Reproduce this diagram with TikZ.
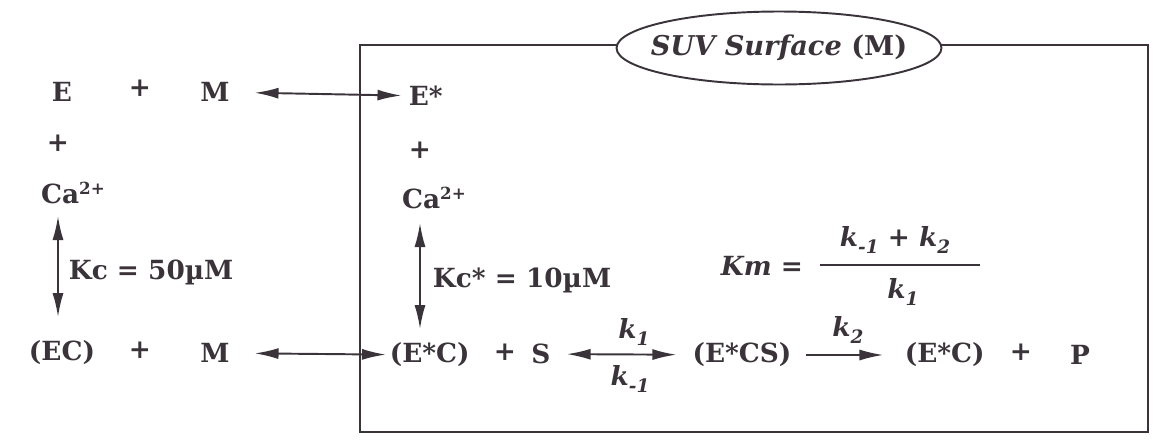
\documentclass[tikz,border=0pt]{standalone}
\usepackage{fontspec}
\setmainfont{DejaVu Serif}
\usepackage{tikz}
\usetikzlibrary{arrows.meta, positioning, calc, shapes.geometric}
\definecolor{ink}{RGB}{58,52,58}
\newcommand{\kr}[1]{{\itshape k}\raisebox{-0.45ex}{\fontsize{10.5}{12}\selectfont\itshape #1}}
\newcommand{\ion}{Ca\raisebox{0.7ex}{\fontsize{9.5}{11}\selectfont 2+}}

\begin{document}
\begin{tikzpicture}[x=0.02cm, y=-0.02cm, every node/.style={inner sep=2pt, text=ink},
  spec/.style={font=\fontsize{15}{18}\selectfont\bfseries},
  rate/.style={font=\fontsize{15}{18}\selectfont\bfseries},
  surf/.style={font=\fontsize{15.5}{18}\selectfont\bfseries},
  dbl/.style={{Latex[length=4.8mm,width=2.2mm]}-{Latex[length=4.8mm,width=2.2mm]}, line width=1.1pt, draw=ink},
  fwd/.style={-{Latex[length=4.8mm,width=2.2mm]}, line width=1.1pt, draw=ink}
]
\useasboundingbox (0,0) rectangle (1164,440);
% membrane box
\draw[ink, line width=1.1pt] (360,432) rectangle (1148,45);
\coordinate (suvc) at (779,48);
\draw[ink, line width=1.1pt, fill=white] (suvc) ellipse [x radius=3.25cm, y radius=0.73cm];
\node[surf] (suv) at (suvc) {\itshape SUV Surface \upshape(M)};

% solution side
\node[spec] (E) at (62,92) {E};
\node[spec] (p1) at (140,88) {+};
\node[spec] (M1) at (215,92) {M};
\node[spec] (p2) at (58,143) {+};
\node[spec] (caL) at (73,193) {\ion};
\node[spec] (EC) at (62,353) {(EC)};
\node[spec] (p3) at (140,350) {+};
\node[spec] (M2) at (215,353) {M};
\node[rate, anchor=west] (kcL) at (65,272) {Kc = 50µM};

% surface side
\node[spec, anchor=west] (Es) at (405,96) {E*};
\node[spec] (p4) at (420,150) {+};
\node[spec] (caR) at (434,198) {\ion};
\node[spec, anchor=west] (ECs) at (386,355) {(E*C)};
\node[rate, anchor=west] (kcR) at (429,280) {Kc* = 10µM};
\node[spec] (p5) at (505,352) {+};
\node[spec] (S) at (541,354) {S};
\node[spec] (ECS) at (742,355) {(E*CS)};
\node[spec, anchor=west] (ECs2) at (901,355) {(E*C)};
\node[spec] (p6) at (1021,352) {+};
\node[spec] (P) at (1080,355) {P};

% rate constants
\node[rate] (k1) at (634,332) {\kr{1}};
\node[rate] (km1) at (630,379) {\kr{-1}};
\node[rate] (k2) at (848,330) {\kr{2}};
\node[rate] (km) at (762,266) {\itshape Km =};
\node[rate] (num) at (895,240) {\kr{-1} + \kr{2}};
\node[rate] (den) at (903,292) {\kr{1}};
\coordinate (barL) at (820,265);
\coordinate (barR) at (980,265);
\draw[ink, line width=0.9pt] (barL) -- (barR);

% equilibria
\draw[dbl, shorten <=12pt, shorten >=2pt] (M1) -- (Es);
\draw[dbl, shorten <=12pt, shorten >=0pt] (M2) -- (ECs);
\draw[dbl] (caL.south -| p2) ++(0,8) -- ($(EC.north -| p2)+(0,-20)$);
\draw[dbl] (caR.south -| p4) ++(0,10) -- ($(ECs.north -| p4)+(0,-10)$);
\draw[dbl, shorten <=7pt, shorten >=7pt] (S) -- (ECS);
\draw[fwd, shorten <=6pt, shorten >=10pt] (ECS) -- (ECs2);
\end{tikzpicture}
\end{document}
